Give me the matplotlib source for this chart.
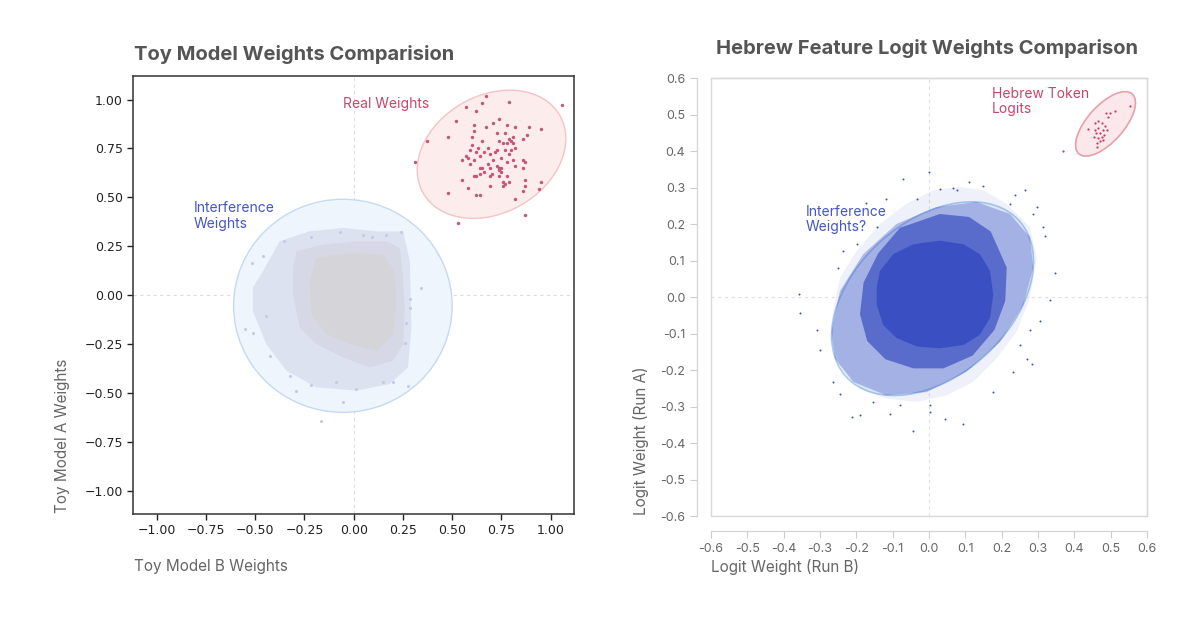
import matplotlib.pyplot as plt
from matplotlib.patches import Ellipse, Rectangle

plt.rcParams['font.family'] = ['Inter', 'DejaVu Sans']

# ---------------- toy model (left panel) ----------------
toy_real_x = [0.67, 0.79, 1.06, 0.57, 0.65, 0.62, 0.52, 0.74, 0.61, 0.71, 0.67, 0.78,
              0.82, 0.89, 0.95, 0.48, 0.61, 0.60, 0.73, 0.77, 0.81, 0.79, 0.88, 0.86,
              0.37, 0.65, 0.74, 0.76, 0.78, 0.80, 0.81, 0.60, 0.63, 0.68, 0.59, 0.62,
              0.66, 0.73, 0.77, 0.80, 0.82, 0.79, 0.69, 0.72, 0.64, 0.57, 0.58, 0.55,
              0.61, 0.71, 0.68, 0.75, 0.78, 0.81, 0.86, 0.87, 0.31, 0.59, 0.64, 0.65,
              0.69, 0.73, 0.74, 0.74, 0.75, 0.66, 0.82, 0.86, 0.64, 0.61, 0.70, 0.75,
              0.74, 0.78, 0.62, 0.55, 0.76, 0.79, 0.77, 0.87, 0.95, 0.69, 0.76, 0.87,
              0.58, 0.94, 0.86, 0.48, 0.62, 0.64, 0.82, 0.87, 0.53, 0.69]
toy_real_y = [1.02, 0.99, 0.97, 0.96, 0.98, 0.94, 0.89, 0.90, 0.87, 0.88, 0.86, 0.87,
              0.86, 0.86, 0.85, 0.81, 0.84, 0.81, 0.83, 0.83, 0.81, 0.80, 0.82, 0.80,
              0.79, 0.79, 0.79, 0.78, 0.78, 0.79, 0.78, 0.77, 0.75, 0.75, 0.74, 0.73,
              0.73, 0.74, 0.74, 0.74, 0.75, 0.72, 0.72, 0.73, 0.71, 0.71, 0.70, 0.69,
              0.69, 0.69, 0.67, 0.70, 0.68, 0.69, 0.69, 0.68, 0.68, 0.67, 0.65, 0.65,
              0.65, 0.66, 0.65, 0.64, 0.65, 0.63, 0.66, 0.65, 0.62, 0.61, 0.62, 0.63,
              0.61, 0.61, 0.61, 0.59, 0.58, 0.58, 0.57, 0.59, 0.58, 0.56, 0.56, 0.56,
              0.55, 0.54, 0.53, 0.52, 0.51, 0.51, 0.49, 0.41, 0.37, 0.61]

# interference cloud, read as three density contours (sparse -> dense)
toy_outer_x = [-0.461, -0.376, -0.224, -0.054, 0.115, 0.251, 0.285, 0.293, 0.276, 0.183,
               0.014, -0.190, -0.342, -0.444, -0.512, -0.512]
toy_outer_y = [0.122, 0.275, 0.326, 0.343, 0.326, 0.326, 0.173, -0.166, -0.370, -0.455,
               -0.489, -0.472, -0.387, -0.251, -0.081, 0.038]
toy_mid_x = [-0.291, -0.156, 0.014, 0.166, 0.234, 0.251, 0.259, 0.251, 0.200, 0.081,
             -0.054, -0.190, -0.274, -0.308, -0.308]
toy_mid_y = [0.224, 0.258, 0.275, 0.275, 0.241, 0.089, -0.081, -0.251, -0.336, -0.370,
             -0.319, -0.251, -0.166, 0.004, 0.139]
toy_core_x = [-0.190, -0.020, 0.149, 0.208, 0.217, 0.200, 0.115, -0.020, -0.139, -0.215, -0.224]
toy_core_y = [0.190, 0.216, 0.207, 0.122, -0.047, -0.200, -0.285, -0.251, -0.200, -0.098, 0.071]
# stray points around the cloud
toy_fringe_x = [-0.215, -0.071, 0.047, 0.095, 0.166, 0.239, -0.354, 0.344, 0.285, 0.285, 0.276, -0.054,
                -0.168, -0.512, -0.554, -0.461, -0.515, -0.291, -0.215, 0.200, -0.427, -0.444, 0.268,
                0.259, -0.325, 0.149, 0.014, -0.088]
toy_fringe_y = [0.297, 0.323, 0.306, 0.295, 0.309, 0.324, 0.275, 0.034, -0.022, -0.065, -0.467, -0.545,
                -0.642, -0.192, -0.175, 0.199, 0.165, -0.489, -0.460, -0.447, -0.311, -0.107, -0.141,
                -0.243, -0.413, -0.447, -0.480, -0.447]

toy_ticks = [-1.0, -0.75, -0.5, -0.25, 0.0, 0.25, 0.5, 0.75, 1.0]
toy_tick_labels = ['\u22121.00', '\u22120.75', '\u22120.50', '\u22120.25', '0.00', '0.25', '0.50', '0.75', '1.00']

# ---------------- hebrew feature (right panel) ----------------
heb_token_x = [0.554, 0.511, 0.488, 0.494, 0.466, 0.457, 0.476, 0.485, 0.466, 0.457, 0.439, 0.480,
               0.489, 0.471, 0.483, 0.476, 0.466, 0.471, 0.462, 0.480, 0.462, 0.368, 0.453, 0.499, 0.460]
heb_token_y = [0.523, 0.509, 0.506, 0.495, 0.484, 0.477, 0.477, 0.470, 0.463, 0.459, 0.460, 0.457,
               0.459, 0.449, 0.445, 0.440, 0.436, 0.429, 0.422, 0.431, 0.411, 0.401, 0.440, 0.506, 0.449]

# logit cloud, read as density contours (very sparse -> solid)
heb_outer_x = [-0.264, -0.245, -0.199, -0.135, -0.062, 0.012, 0.085, 0.150, 0.214, 0.278, 0.297, 0.278,
               0.242, 0.186, 0.122, 0.049, -0.034, -0.117, -0.190, -0.245, -0.273]
heb_outer_y = [-0.039, 0.053, 0.127, 0.201, 0.256, 0.293, 0.302, 0.293, 0.256, 0.192, 0.109, -0.002,
               -0.094, -0.168, -0.232, -0.269, -0.287, -0.278, -0.250, -0.186, -0.112]
heb_sparse_x = [-0.268, -0.245, -0.181, -0.089, 0.021, 0.131, 0.223, 0.278, 0.287, 0.260, 0.196, 0.104,
                -0.006, -0.117, -0.209, -0.259]
heb_sparse_y = [-0.094, 0.017, 0.118, 0.201, 0.247, 0.261, 0.228, 0.164, 0.081, -0.020, -0.122, -0.204,
                -0.260, -0.269, -0.232, -0.168]
heb_dense_x = [-0.190, -0.180, -0.140, -0.080, 0.030, 0.110, 0.170, 0.214, 0.210, 0.180, 0.120, 0.040,
               -0.043, -0.120, -0.170]
heb_dense_y = [-0.047, 0.040, 0.120, 0.190, 0.228, 0.220, 0.180, 0.081, -0.010, -0.090, -0.160, -0.195,
               -0.195, -0.170, -0.120]
heb_core_x = [-0.135, -0.098, -0.043, 0.030, 0.095, 0.140, 0.168, 0.177, 0.168, 0.140, 0.095, 0.030,
              -0.034, -0.089, -0.126, -0.144, -0.144]
heb_core_y = [0.072, 0.118, 0.145, 0.155, 0.145, 0.118, 0.072, 0.007, -0.057, -0.103, -0.131, -0.140,
              -0.135, -0.112, -0.076, -0.020, 0.026]
heb_fringe_x = [-0.071, 0.000, 0.111, 0.148, 0.067, 0.076, 0.030, -0.034, -0.117, -0.172, -0.144, 0.264,
                0.237, 0.297, 0.315, 0.320, 0.347, 0.333, 0.306, 0.278, 0.269, 0.283, 0.177, 0.095,
                0.044, 0.003, -0.043, -0.107, -0.190, -0.213, -0.245, -0.264, -0.300, -0.309, -0.355,
                -0.359, -0.250, -0.236, -0.199, 0.223, 0.287, 0.251, 0.232, -0.080, -0.153, 0.003]
heb_fringe_y = [0.325, 0.343, 0.316, 0.304, 0.300, 0.293, 0.297, 0.270, 0.270, 0.258, 0.192, 0.293,
                0.279, 0.247, 0.192, 0.169, 0.067, -0.009, -0.066, -0.089, -0.168, -0.184, -0.260, -0.347,
                -0.333, -0.315, -0.368, -0.320, -0.324, -0.329, -0.264, -0.232, -0.145, -0.089, -0.043,
                0.009, 0.081, 0.127, 0.145, 0.256, 0.228, -0.131, -0.204, -0.296, -0.287, -0.296]

heb_ticks = [-0.6, -0.5, -0.4, -0.3, -0.2, -0.1, 0.0, 0.1, 0.2, 0.3, 0.4, 0.5, 0.6]
heb_tick_labels = ['-0.6', '-0.5', '-0.4', '-0.3', '-0.2', '-0.1', '0.0', '0.1', '0.2', '0.3', '0.4', '0.5', '0.6']

red_text = '#c8466a'
blue_text = '#4456c4'
cloud_blue = '#3a4fc2'
title_col = '#555555'
label_col = '#666666'

fig = plt.figure(figsize=(12, 6.31), dpi=100)

# ======== left panel ========
ax1 = fig.add_axes([0.111, 0.1854, 0.3675, 0.694])
ax1.set_xlim(-1.12, 1.12)
ax1.set_ylim(-1.12, 1.12)
ax1.axhline(0, color='#dddddd', lw=0.8, ls=(0, (3, 3)), zorder=0)
ax1.axvline(0, color='#dddddd', lw=0.8, ls=(0, (3, 3)), zorder=0)

ax1.add_patch(Ellipse((-0.055, -0.055), 1.11, 1.09, facecolor='#eef5fc', edgecolor='#c4daf2', lw=1, zorder=1))
ax1.add_patch(Ellipse((0.70, 0.72), 0.80, 0.60, angle=30, facecolor='#fcecec', edgecolor='#f3c4c4', lw=1, zorder=1))

ax1.fill(toy_outer_x, toy_outer_y, color='#dde2f1', lw=0, zorder=2)
ax1.fill(toy_mid_x, toy_mid_y, color='#d6d9e5', lw=0, zorder=2)
ax1.fill(toy_core_x, toy_core_y, color='#d5d5d9', lw=0, zorder=2)
ax1.scatter(toy_fringe_x, toy_fringe_y, s=5, color='#c3cbe6', lw=0, zorder=4)
ax1.scatter(toy_real_x, toy_real_y, s=6, color='#c4567a', lw=0, zorder=4)

ax1.text(-0.056, 0.976, 'Real Weights', color=red_text, fontsize=10, va='center')
ax1.text(-0.813, 0.48, 'Interference\nWeights', color=blue_text, fontsize=10, va='top', linespacing=1.15)

ax1.set_xticks(toy_ticks)
ax1.set_xticklabels(toy_tick_labels, family='DejaVu Sans')
ax1.set_yticks(toy_ticks)
ax1.set_yticklabels(toy_tick_labels, family='DejaVu Sans')
ax1.tick_params(labelsize=9, colors='#222222', length=4, width=1)
for s in ax1.spines.values():
    s.set_color('#333333')
    s.set_linewidth(1.1)

# ======== right panel ========
ax2 = fig.add_axes([0.5925, 0.182, 0.3633, 0.694])
ax2.set_xlim(-0.6, 0.6)
ax2.set_ylim(-0.6, 0.6)
ax2.axhline(0, color='#e0e0e0', lw=0.8, ls=(0, (3, 3)), zorder=0)
ax2.axvline(0, color='#e0e0e0', lw=0.8, ls=(0, (3, 3)), zorder=0)

ax2.add_patch(Ellipse((0.01, -0.004), 0.64, 0.425, angle=41.6, facecolor='#eaf2fb', edgecolor='#a9cbec', lw=1.2, zorder=1))
ax2.add_patch(Ellipse((0.486, 0.475), 0.22, 0.10, angle=48, facecolor='#fbe8ea', edgecolor='#e8a0a8', lw=1.2, zorder=1))

ax2.fill(heb_outer_x, heb_outer_y, color=cloud_blue, alpha=0.08, lw=0, zorder=2)
ax2.fill(heb_sparse_x, heb_sparse_y, color=cloud_blue, alpha=0.34, lw=0, zorder=2)
ax2.fill(heb_dense_x, heb_dense_y, color=cloud_blue, alpha=0.7, lw=0, zorder=3)
ax2.fill(heb_core_x, heb_core_y, color=cloud_blue, lw=0, zorder=4)
ax2.scatter(heb_fringe_x, heb_fringe_y, s=2, color=cloud_blue, lw=0, zorder=5)
ax2.scatter(heb_token_x, heb_token_y, s=2.5, color='#c23a5c', lw=0, zorder=5)

ax2.text(0.174, 0.577, 'Hebrew Token\nLogits', color=red_text, fontsize=10, va='top', linespacing=1.15)
ax2.text(-0.339, 0.254, 'Interference\nWeights?', color=blue_text, fontsize=10, va='top', linespacing=1.15)

ax2.set_xticks(heb_ticks)
ax2.set_xticklabels(heb_tick_labels)
ax2.set_yticks(heb_ticks)
ax2.set_yticklabels(heb_tick_labels)
ax2.tick_params(labelsize=9, colors='#cccccc', labelcolor='#666666', length=5, width=0.8)
ax2.spines['left'].set_position(('outward', 10))
ax2.spines['bottom'].set_position(('outward', 11))
for s in ax2.spines.values():
    s.set_color('#d4d4d4')
    s.set_linewidth(0.9)
ax2.add_patch(Rectangle((0, 0), 1, 1, transform=ax2.transAxes, fill=False,
                        edgecolor='#d8d8d8', lw=1, clip_on=False, zorder=6))

# ======== titles and axis labels ========
fig.text(134 / 1200, 1 - 55 / 631, 'Toy Model Weights Comparision', fontsize=14.5,
         fontweight='bold', color=title_col, va='center')
fig.text(927 / 1200, 1 - 48 / 631, 'Hebrew Feature Logit Weights Comparison', fontsize=14.5,
         fontweight='bold', color=title_col, va='center', ha='center')
fig.text(134 / 1200, 1 - 567 / 631, 'Toy Model B Weights', fontsize=11, color=label_col, va='center')
fig.text(62 / 1200, 1 - 513 / 631, 'Toy Model A Weights', fontsize=11, color=label_col,
         rotation=90, ha='center', va='bottom')
fig.text(711 / 1200, 1 - 567 / 631, 'Logit Weight (Run B)', fontsize=11, color=label_col, va='center')
fig.text(641 / 1200, 1 - 515 / 631, 'Logit Weight (Run A)', fontsize=11, color=label_col,
         rotation=90, ha='center', va='bottom')

fig.savefig('out.png', dpi=100)
